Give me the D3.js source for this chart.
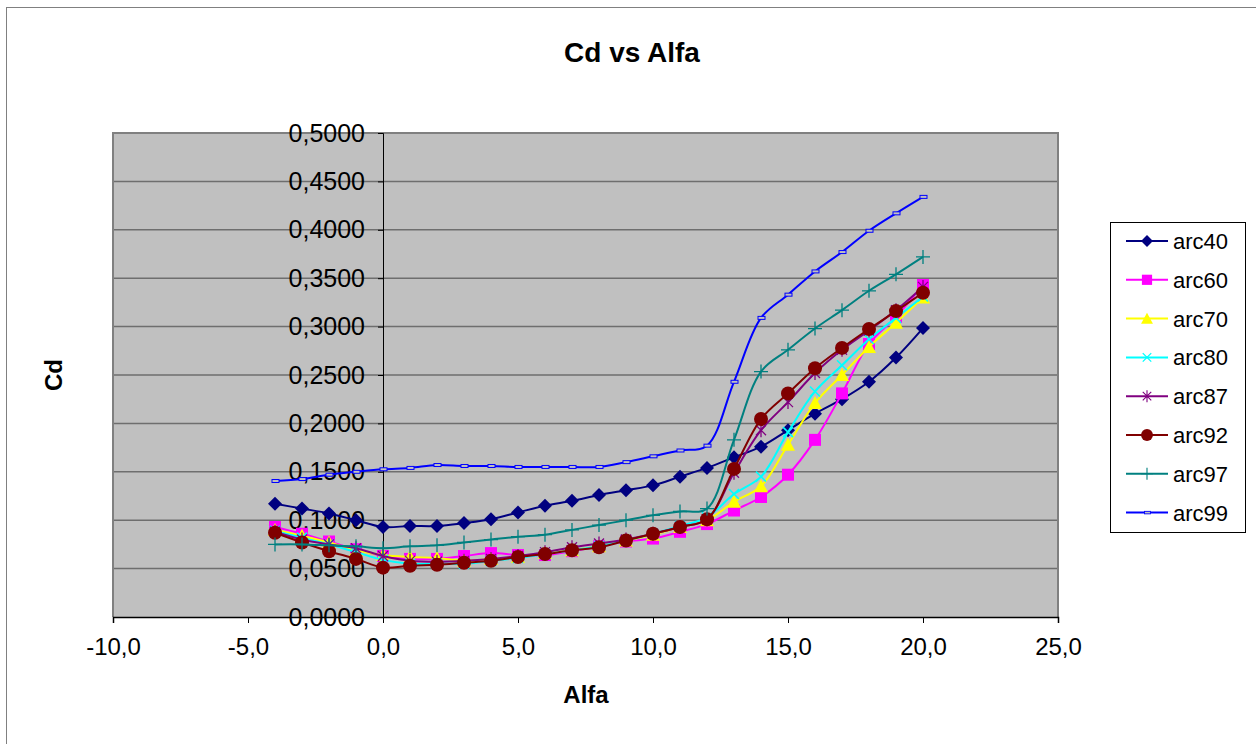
<!DOCTYPE html>
<html>
<head>
<meta charset="utf-8">
<script src="https://cdn.jsdelivr.net/npm/d3@7"></script>
<style>
  body { margin: 0; background: #fff; }
  text { font-family: Arial, "Liberation Sans", sans-serif; }
</style>
</head>
<body>
<div id="chart"></div>
<script>
// angle of attack, -4 .. 20
const alfa = [-4, -3, -2, -1, 0, 1, 2, 3, 4, 5, 6, 7, 8, 9, 10, 11, 12, 13, 14, 15, 16, 17, 18, 19, 20];

const arc40 = [0.117, 0.112, 0.107, 0.100, 0.093, 0.094, 0.094, 0.097, 0.101, 0.108, 0.115, 0.120, 0.126, 0.131, 0.136, 0.145, 0.154, 0.165, 0.176, 0.193, 0.210, 0.225, 0.243, 0.268, 0.2985];
const arc60 = [0.093, 0.086, 0.078, 0.070, 0.063, 0.060, 0.060, 0.063, 0.066, 0.064, 0.064, 0.068, 0.073, 0.078, 0.081, 0.088, 0.096, 0.110, 0.124, 0.147, 0.183, 0.231, 0.282, 0.310, 0.343];
const arc70 = [0.090, 0.084, 0.077, 0.069, 0.064, 0.062, 0.061, 0.058, 0.060, 0.062, 0.066, 0.069, 0.073, 0.079, 0.085, 0.093, 0.100, 0.119, 0.135, 0.178, 0.221, 0.250, 0.279, 0.304, 0.330];
const arc80 = [0.089, 0.082, 0.075, 0.067, 0.059, 0.055, 0.055, 0.055, 0.058, 0.061, 0.065, 0.069, 0.073, 0.079, 0.086, 0.094, 0.103, 0.127, 0.145, 0.191, 0.233, 0.260, 0.287, 0.309, 0.331];
const arc87 = [0.088, 0.080, 0.075, 0.071, 0.063, 0.058, 0.057, 0.058, 0.060, 0.063, 0.067, 0.072, 0.076, 0.080, 0.086, 0.093, 0.101, 0.149, 0.193, 0.222, 0.252, 0.276, 0.296, 0.317, 0.341];
const arc92 = [0.087, 0.077, 0.068, 0.060, 0.051, 0.053, 0.054, 0.056, 0.058, 0.062, 0.065, 0.069, 0.072, 0.079, 0.086, 0.093, 0.101, 0.153, 0.2045, 0.231, 0.257, 0.278, 0.2975, 0.316, 0.335];
const arc97 = [0.075, 0.075, 0.074, 0.073, 0.071, 0.073, 0.074, 0.077, 0.080, 0.083, 0.085, 0.090, 0.095, 0.100, 0.105, 0.109, 0.112, 0.183, 0.2535, 0.276, 0.298, 0.317, 0.337, 0.354, 0.372];
const arc99 = [0.1405, 0.1425, 0.147, 0.150, 0.1526, 0.154, 0.157, 0.156, 0.156, 0.155, 0.155, 0.155, 0.155, 0.160, 0.166, 0.172, 0.177, 0.243, 0.309, 0.333, 0.357, 0.377, 0.399, 0.417, 0.434];

const seriesNames = ['arc40', 'arc60', 'arc70', 'arc80', 'arc87', 'arc92', 'arc97', 'arc99'];
const seriesValues = [arc40, arc60, arc70, arc80, arc87, arc92, arc97, arc99];
const seriesColors = ['#000080', '#ff00ff', '#ffff00', '#00ffff', '#800080', '#800000', '#008080', '#0000ff'];
const seriesMarkers = ['diamond', 'square', 'triangle', 'x', 'star', 'circle', 'plus', 'dash'];

const xTicks = [-10, -5, 0, 5, 10, 15, 20, 25];
const yTicks = [0, 0.05, 0.1, 0.15, 0.2, 0.25, 0.3, 0.35, 0.4, 0.45, 0.5];

const W = 1256, H = 744;
const plot = { left: 113, top: 133, right: 1058, bottom: 617 };

const svg = d3.select('#chart').append('svg')
  .attr('width', W)
  .attr('height', H);

// outer chart border
svg.append('rect')
  .attr('x', 6.5).attr('y', 7.5)
  .attr('width', W + 10).attr('height', H + 10)
  .attr('fill', '#fff')
  .attr('stroke', '#808080')
  .attr('stroke-width', 1);

const x = d3.scaleLinear().domain([-10, 25]).range([plot.left, plot.right]);
const y = d3.scaleLinear().domain([0, 0.5]).range([plot.bottom, plot.top]);

// comma decimal, plain hyphen minus
const fmt = p => d => d3.format('.' + p + 'f')(d).replace('.', ',').replace('\u2212', '-');

// plot background
svg.append('rect')
  .attr('x', plot.left).attr('y', plot.top)
  .attr('width', plot.right - plot.left).attr('height', plot.bottom - plot.top)
  .attr('fill', '#c0c0c0');

// gridlines
svg.append('g')
  .selectAll('line')
  .data(yTicks.filter(d => d > 0))
  .enter()
  .append('line')
  .attr('x1', plot.left).attr('x2', plot.right)
  .attr('y1', d => y(d)).attr('y2', d => y(d))
  .attr('stroke', '#6e6e6e')
  .attr('stroke-width', 1.5);

// plot frame (left/top/right gray)
svg.append('path')
  .attr('d', `M${plot.left},${plot.bottom} V${plot.top} H${plot.right} V${plot.bottom}`)
  .attr('fill', 'none')
  .attr('stroke', '#808080')
  .attr('stroke-width', 2);

// x axis at y = 0
const xAxis = svg.append('g')
  .attr('transform', `translate(0,${y(0)})`)
  .call(d3.axisBottom(x).tickValues(xTicks).tickSize(6).tickPadding(15)
    .tickFormat(fmt(1)));
xAxis.select('.domain').attr('stroke', '#000').attr('stroke-width', 1.5);
xAxis.selectAll('.tick line').attr('stroke', '#000');
xAxis.selectAll('.tick text').attr('font-size', 24).attr('fill', '#000')
  .attr('font-family', 'Arial, "Liberation Sans", sans-serif');

// y axis crossing at x = 0
const yAxis = svg.append('g')
  .attr('transform', `translate(${x(0)},0)`)
  .call(d3.axisLeft(y).tickValues(yTicks).tickSize(5).tickPadding(13)
    .tickFormat(fmt(4)));
yAxis.select('.domain').attr('stroke', '#000').attr('stroke-width', 1);
yAxis.selectAll('.tick line').attr('stroke', '#000');
yAxis.selectAll('.tick text').attr('font-size', 25).attr('fill', '#000')
  .attr('font-family', 'Arial, "Liberation Sans", sans-serif');

// lines
const line = d3.line()
  .x((d, i) => x(alfa[i]))
  .y(d => y(d))
  .curve(d3.curveCatmullRom.alpha(0.5));

function drawMarker(g, type, color, cx, cy, k) {
  const s = g.append('g').attr('transform', `translate(${cx},${cy}) scale(${k || 1})`);
  if (type === 'diamond') {
    s.append('path').attr('d', 'M0,-7 L7,0 L0,7 L-7,0 Z').attr('fill', color);
  } else if (type === 'square') {
    s.append('rect').attr('x', -6).attr('y', -6).attr('width', 12).attr('height', 12).attr('fill', color);
  } else if (type === 'triangle') {
    s.append('path').attr('d', 'M0,-7 L7,6 L-7,6 Z').attr('fill', color);
  } else if (type === 'x') {
    s.append('path').attr('d', 'M-5,-5 L5,5 M-5,5 L5,-5').attr('stroke', color).attr('stroke-width', 1.5);
  } else if (type === 'star') {
    s.append('path').attr('d', 'M-5,-5 L5,5 M-5,5 L5,-5 M0,-7 V7').attr('stroke', color).attr('stroke-width', 1.3);
  } else if (type === 'circle') {
    s.append('circle').attr('r', 7).attr('fill', color);
  } else if (type === 'plus') {
    s.append('path').attr('d', 'M-7,0 H7 M0,-7 V7').attr('stroke', color).attr('stroke-width', 1.3);
  } else if (type === 'dash') {
    s.append('rect').attr('x', -3).attr('y', -1.5).attr('width', 7).attr('height', 3)
      .attr('fill', '#c0c0c0').attr('stroke', color).attr('stroke-width', 1);
  }
}

seriesNames.forEach((name, k) => {
  const g = svg.append('g').attr('class', 'series-' + name);
  g.append('path')
    .attr('d', line(seriesValues[k]))
    .attr('fill', 'none')
    .attr('stroke', seriesColors[k])
    .attr('stroke-width', 2);
  seriesValues[k].forEach((v, i) => {
    drawMarker(g, seriesMarkers[k], seriesColors[k], x(alfa[i]), y(v));
  });
});

// titles
svg.append('text')
  .attr('x', 632).attr('y', 62)
  .attr('text-anchor', 'middle')
  .attr('font-size', 28).attr('font-weight', 'bold')
  .text('Cd vs Alfa');

svg.append('text')
  .attr('x', 586).attr('y', 703)
  .attr('text-anchor', 'middle')
  .attr('font-size', 24).attr('font-weight', 'bold')
  .text('Alfa');

svg.append('text')
  .attr('transform', 'translate(62,375) rotate(-90)')
  .attr('text-anchor', 'middle')
  .attr('font-size', 24).attr('font-weight', 'bold')
  .text('Cd');

// legend
const legend = svg.append('g').attr('transform', 'translate(1110,222)');
legend.append('rect')
  .attr('x', 0.5).attr('y', 0.5)
  .attr('width', 135).attr('height', 310)
  .attr('fill', '#fff')
  .attr('stroke', '#000')
  .attr('stroke-width', 1);

seriesNames.forEach((name, k) => {
  const ly = 19 + k * 38.8;
  const row = legend.append('g');
  row.append('line')
    .attr('x1', 16).attr('x2', 58)
    .attr('y1', ly).attr('y2', ly)
    .attr('stroke', seriesColors[k])
    .attr('stroke-width', 2);
  drawMarker(row, seriesMarkers[k], seriesColors[k], 37, ly, 0.85);
  row.append('text')
    .attr('x', 63).attr('y', ly + 8)
    .attr('font-size', 22)
    .text(name);
});
</script>
</body>
</html>
